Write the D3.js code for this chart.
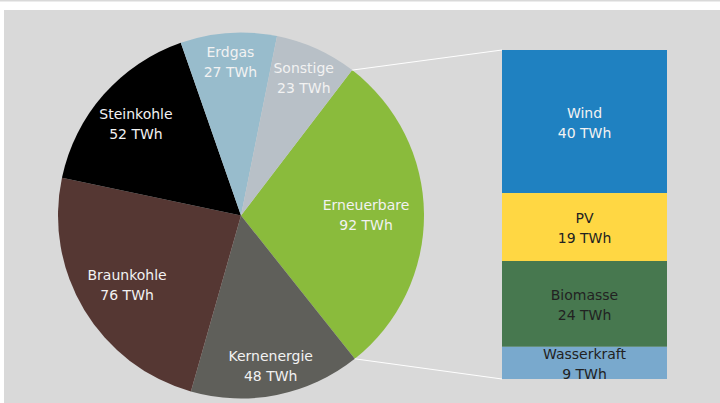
<!DOCTYPE html>
<html><head><meta charset="utf-8">
<script src="https://cdn.jsdelivr.net/npm/d3@7"></script>
<style>html,body{margin:0;padding:0;background:#fff;overflow:hidden}</style>
</head><body>
<svg id="chart" width="720" height="403"></svg>
<script>
// Data
const pieCategories = ["Erneuerbare", "Kernenergie", "Braunkohle", "Steinkohle", "Erdgas", "Sonstige"];
const pieValues = [92, 48, 76, 52, 27, 23];
const barCategories = ["Wind", "PV", "Biomasse", "Wasserkraft"];
const barValues = [40, 19, 24, 9];
const unit = "TWh";

// Styles
const pieColors = ["#8abb3c", "#5f5f5a", "#553733", "#000000", "#98bccc", "#b8c0c7"];
const barColors = ["#1f81c1", "#ffd743", "#47784f", "#79a9cd"];
const barTextColors = ["#f2f2f2", "#222", "#222", "#222"];
const labelRadii = [125, 152, 133, 140, 155, 152];
const font = "'DejaVu Sans', sans-serif";
const fontSize = 14;

const svg = d3.select("#chart");
svg.append("rect").attr("x", 0).attr("y", 0).attr("width", 720).attr("height", 1.5).attr("fill", "#d9d9d9");
svg.append("rect").attr("x", 4).attr("y", 10).attr("width", 716).attr("height", 393).attr("fill", "#d9d9d9");

const cx = 241, cy = 215.5, r = 183;
const start = 37.4 * Math.PI / 180;
const pie = d3.pie().sort(null).value(d => d).startAngle(start).endAngle(start + 2 * Math.PI);
const arcs = pie(pieValues);
const arc = d3.arc().innerRadius(0).outerRadius(r);

const g = svg.append("g").attr("transform", `translate(${cx},${cy})`);
g.selectAll("path").data(arcs).join("path")
  .attr("d", arc).attr("fill", (d, i) => pieColors[i]);

arcs.forEach((d, i) => {
  const a = (d.startAngle + d.endAngle) / 2;
  const lr = labelRadii[i];
  const x = Math.sin(a) * lr, y = -Math.cos(a) * lr;
  const t = g.append("text").attr("text-anchor", "middle")
    .attr("font-family", font).attr("font-size", fontSize).attr("fill", "#f2f2f2");
  t.append("tspan").attr("x", x).attr("y", y - 4).text(pieCategories[i]);
  t.append("tspan").attr("x", x).attr("y", y + 16).text(pieValues[i] + " " + unit);
});

// Bar
const barX = 502, barW = 165, barTop = 50, barBottom = 379;
const total = d3.sum(barValues);
const yScale = d3.scaleLinear().domain([0, total]).range([barTop, barBottom]);
let cum = 0;
const stacks = barValues.map(v => { const s = { y0: cum, y1: cum + v }; cum += v; return s; });
const bg = svg.append("g");
bg.selectAll("rect").data(stacks).join("rect")
  .attr("x", barX).attr("width", barW)
  .attr("y", d => yScale(d.y0)).attr("height", d => yScale(d.y1) - yScale(d.y0))
  .attr("fill", (d, i) => barColors[i]);
stacks.forEach((d, i) => {
  const my = (yScale(d.y0) + yScale(d.y1)) / 2;
  const t = bg.append("text").attr("text-anchor", "middle")
    .attr("font-family", font).attr("font-size", fontSize).attr("fill", barTextColors[i]);
  t.append("tspan").attr("x", barX + barW / 2).attr("y", my - 4).text(barCategories[i]);
  t.append("tspan").attr("x", barX + barW / 2).attr("y", my + 16).text(barValues[i] + " " + unit);
});

// Connector lines from the Erneuerbare slice edges
const e = arcs[0];
const p1 = [cx + Math.sin(e.startAngle) * r, cy - Math.cos(e.startAngle) * r];
const p2 = [cx + Math.sin(e.endAngle) * r, cy - Math.cos(e.endAngle) * r];
svg.append("line").attr("x1", p1[0]).attr("y1", p1[1]).attr("x2", barX).attr("y2", barTop)
  .attr("stroke", "#fff").attr("stroke-width", 1);
svg.append("line").attr("x1", p2[0]).attr("y1", p2[1]).attr("x2", barX).attr("y2", barBottom)
  .attr("stroke", "#fff").attr("stroke-width", 1);
</script>
</body></html>
